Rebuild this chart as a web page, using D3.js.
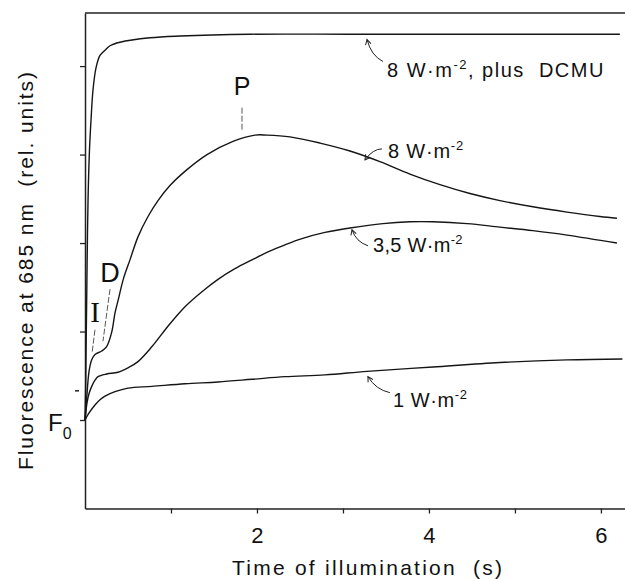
<!DOCTYPE html>
<html><head><meta charset="utf-8">
<script src="https://cdn.jsdelivr.net/npm/d3@7"></script>
<style>
body{margin:0;background:#fff}
svg{display:block}
text{font-family:"Liberation Sans",Arial,sans-serif;fill:#111;white-space:pre}
</style>
</head><body>
<svg id="c" width="625" height="579"></svg>
<script>
// ---- data (time in s, fluorescence in rel. units; F0 = 1) ----
const dcmuT = [0, 0.007, 0.014, 0.021, 0.029, 0.038, 0.052, 0.07, 0.093, 0.128, 0.174, 0.233, 0.291, 0.407, 0.756, 1.105, 1.919, 3.081, 4.244, 6.22];
const dcmuF = [1.00, 1.34, 1.91, 2.47, 3.12, 3.60, 4.05, 4.39, 4.73, 4.98, 5.12, 5.18, 5.23, 5.27, 5.32, 5.34, 5.36, 5.36, 5.36, 5.36];

const w8T = [0, 0.023, 0.047, 0.078, 0.116, 0.194, 0.252, 0.31, 0.349, 0.387, 0.445, 0.523, 0.616, 0.733, 0.849, 0.988, 1.186, 1.419, 1.721, 1.977, 2.116, 2.384, 2.733, 3.081, 3.43, 3.779, 4.128, 4.477, 4.826, 5.209, 5.605, 5.988, 6.186];
const w8F = [1.00, 1.29, 1.55, 1.68, 1.74, 1.78, 1.83, 1.99, 2.21, 2.36, 2.59, 2.81, 3.07, 3.30, 3.48, 3.65, 3.83, 4.00, 4.15, 4.22, 4.22, 4.20, 4.13, 4.04, 3.92, 3.78, 3.66, 3.56, 3.48, 3.41, 3.35, 3.30, 3.28];

const w35T = [0, 0.023, 0.047, 0.078, 0.116, 0.151, 0.252, 0.384, 0.5, 0.616, 0.779, 0.965, 1.163, 1.36, 1.547, 1.744, 1.942, 2.128, 2.326, 2.523, 2.791, 3.081, 3.465, 3.779, 4.047, 4.442, 4.826, 5.209, 5.605, 6.186];
const w35F = [1.00, 1.19, 1.30, 1.38, 1.45, 1.49, 1.52, 1.54, 1.59, 1.66, 1.83, 2.06, 2.28, 2.45, 2.59, 2.71, 2.81, 2.90, 2.98, 3.05, 3.12, 3.17, 3.22, 3.24, 3.24, 3.22, 3.18, 3.14, 3.09, 3.00];

const w1T = [0, 0.047, 0.116, 0.174, 0.233, 0.349, 0.5, 0.779, 1.163, 1.547, 1.942, 2.326, 2.791, 3.279, 4.047, 4.826, 5.605, 6.25];
const w1F = [1.00, 1.08, 1.17, 1.23, 1.27, 1.32, 1.36, 1.38, 1.41, 1.43, 1.46, 1.49, 1.51, 1.55, 1.60, 1.65, 1.68, 1.69];

const xTicks = [1, 2, 3, 4, 5, 6];
const xTickLabels = ["", "2", "", "4", "", "6"];
const yTicks = [1, 2, 3, 4, 5];

const seriesLabels = ["8 W\u00b7m", "8 W\u00b7m", "3,5 W\u00b7m", "1 W\u00b7m"];
const seriesLabelTail = [", plus  DCMU", "", "", ""];
// arrow tips (data coords) for the curve annotations
const arrowTipT = [3.28, 3.256, 3.105, 3.29];
const arrowTipF = [5.30, 3.94, 3.15, 1.49];

// ---- scales ----
const svg = d3.select("#c");
const x = d3.scaleLinear().domain([0, 6.28]).range([85, 625]);
const y = d3.scaleLinear().domain([0, 5.6]).range([508.5, 13]);

// ---- axes ----
const gx = svg.append("g").attr("transform", `translate(0,${y(0)})`)
  .call(d3.axisBottom(x).tickValues(xTicks).tickSize(5).tickSizeOuter(0)
    .tickFormat((d, i) => xTickLabels[i]));
gx.selectAll("text").attr("y", 34.5).attr("dy", 0).style("font-size", "22px").attr("fill", "#111");
const gy = svg.append("g").attr("transform", `translate(${x(0)},0)`)
  .call(d3.axisLeft(y).tickValues(yTicks).tickSize(5).tickSizeOuter(0).tickFormat(""));
svg.selectAll(".domain").attr("stroke", "#222").attr("stroke-width", 1.5);
svg.selectAll(".tick line").attr("stroke", "#222").attr("stroke-width", 1.3);
// top frame line
svg.append("line").attr("x1", x(0)).attr("x2", x(6.28)).attr("y1", y(5.6)).attr("y2", y(5.6))
  .attr("stroke", "#222").attr("stroke-width", 1.5);

// small mark left of the axis
svg.append("line").attr("x1", x(0) - 10).attr("x2", x(0) - 6).attr("y1", y(1.33)).attr("y2", y(1.33))
  .attr("stroke", "#222").attr("stroke-width", 1.5);

// ---- curves ----
const line = d3.line().x(d => x(d[0])).y(d => y(d[1])).curve(d3.curveCatmullRom.alpha(0.5));
const series = [[dcmuT, dcmuF], [w8T, w8F], [w35T, w35F], [w1T, w1F]];
series.forEach(([T, F]) => {
  svg.append("path").datum(T.map((t, i) => [t, F[i]]))
    .attr("d", line).attr("fill", "none").attr("stroke", "#151515").attr("stroke-width", 1.4);
});

// ---- arrows + labels ----
const defs = svg.append("defs");
defs.append("marker").attr("id", "ah").attr("viewBox", "-6 -4 8 8").attr("refX", 0).attr("refY", 0)
  .attr("markerWidth", 8).attr("markerHeight", 8).attr("orient", "auto").attr("markerUnits", "userSpaceOnUse")
  .append("path").attr("d", "M-5,-2.8 L0,0 L-5,2.8").attr("fill", "none").attr("stroke", "#222").attr("stroke-width", 1);

const tailOff = [[16, 22], [17, -11], [16, 16], [22, 16]];
const ctrlOff = [[4, 16], [8, -11], [4, 12], [8, 13]];
const textOff = [[20, 37], [23, -2], [21, 22], [25, 30]];
const labelSpacing = [1.5, 0.8, 0.3, 0.6];
seriesLabels.forEach((lab, i) => {
  const tx = x(arrowTipT[i]), ty = y(arrowTipF[i]);
  svg.append("path")
    .attr("d", `M${tx + tailOff[i][0]},${ty + tailOff[i][1]} Q${tx + ctrlOff[i][0]},${ty + ctrlOff[i][1]} ${tx},${ty}`)
    .attr("fill", "none").attr("stroke", "#222").attr("stroke-width", 1).attr("marker-end", "url(#ah)");
  const t = svg.append("text").attr("x", tx + textOff[i][0]).attr("y", ty + textOff[i][1])
    .style("font-size", "20px").style("letter-spacing", labelSpacing[i] + "px");
  t.append("tspan").text(lab);
  t.append("tspan").attr("dy", -8).style("font-size", "13px").text("-2");
  if (seriesLabelTail[i]) t.append("tspan").attr("dy", 8).text(seriesLabelTail[i]);
});

// ---- transient markers I, D, P ----
svg.append("text").attr("x", 95).attr("y", 322).attr("text-anchor", "middle")
  .style("font-family", "'Liberation Serif',serif").style("font-size", "29px").text("I");
svg.append("text").attr("x", 110).attr("y", 282).attr("text-anchor", "middle").style("font-size", "27px").text("D");
svg.append("text").attr("x", 242).attr("y", 95).attr("text-anchor", "middle").style("font-size", "25px").text("P");
const guide = (t1, f1, t2, f2) => svg.append("line")
  .attr("x1", x(t1)).attr("y1", y(f1)).attr("x2", x(t2)).attr("y2", y(f2))
  .attr("stroke", "#444").attr("stroke-width", 0.9).attr("stroke-dasharray", "6,2");
guide(0.116, 2.02, 0.084, 1.77);   // I
guide(0.291, 2.48, 0.209, 1.89);   // D
guide(1.826, 4.53, 1.826, 4.28);   // P

// F0
const f0 = svg.append("text").attr("x", 48).attr("y", 431).style("font-size", "24px");
f0.append("tspan").text("F");
f0.append("tspan").attr("dy", 8).style("font-size", "16px").text("0");

// ---- axis titles ----
svg.append("text").attr("x", 367).attr("y", 575).attr("text-anchor", "middle")
  .attr("textLength", 270).attr("lengthAdjust", "spacing")
  .style("font-size", "21px").text("Time of illumination  (s)");
svg.append("text").attr("transform", "translate(33,271) rotate(-90)").attr("text-anchor", "middle")
  .attr("textLength", 398).attr("lengthAdjust", "spacing")
  .style("font-size", "21px").text("Fluorescence at 685 nm  (rel. units)");
</script>
</body></html>
